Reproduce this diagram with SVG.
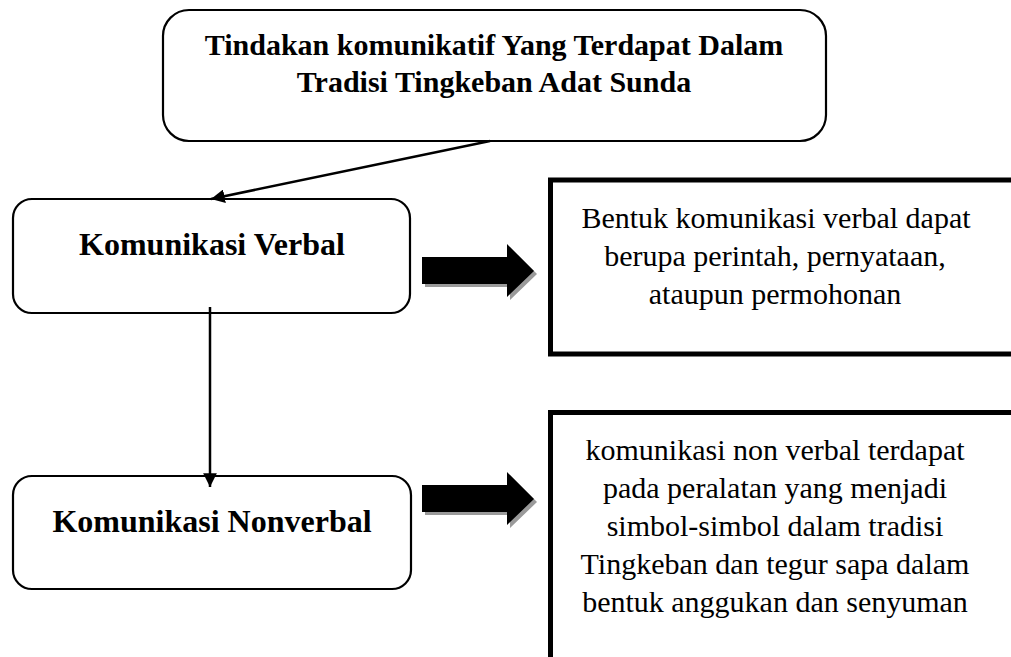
<svg xmlns="http://www.w3.org/2000/svg" width="1011" height="657" viewBox="0 0 1011 657">
<style>
.rbox{fill:#fff;stroke:#000;stroke-width:2.2}
.tbox{fill:#fff;stroke:#000;stroke-width:5}
.hd{font-family:"Liberation Serif","Times New Roman",serif;font-weight:bold;text-anchor:middle;fill:#000}
.bd{font-family:"Liberation Serif","Times New Roman",serif;font-size:30px;text-anchor:middle;fill:#000}
.conn{stroke:#000;stroke-width:2.5;fill:none}
.shadow{fill:#9a9a9a}
.blk{fill:#000}
</style>
<defs>
<marker id="ah" viewBox="0 0 10 10" refX="10" refY="5" markerWidth="5.5" markerHeight="5.5" orient="auto" markerUnits="strokeWidth">
<path d="M0,0 L10,5 L0,10 z" fill="#000"/>
</marker>
</defs>
<rect width="1011" height="657" fill="#fff"/>
<g id="node-title">
<rect class="rbox" x="163" y="10" width="663" height="131" rx="26"/>
<text class="hd" x="494" y="55" font-size="30">Tindakan komunikatif Yang Terdapat Dalam</text>
<text class="hd" x="494" y="92" font-size="30">Tradisi Tingkeban Adat Sunda</text>
</g>
<g id="node-verbal">
<rect class="rbox" x="13" y="199" width="397" height="114" rx="19"/>
<text class="hd" x="212" y="255" font-size="32">Komunikasi Verbal</text>
</g>
<g id="node-nonverbal">
<rect class="rbox" x="13" y="476" width="398" height="113" rx="19"/>
<text class="hd" x="212" y="532" font-size="32">Komunikasi Nonverbal</text>
</g>
<g id="node-verbal-desc">
<rect class="tbox" x="550.5" y="180" width="480" height="174"/>
<text class="bd" x="776" y="228">Bentuk komunikasi verbal dapat</text>
<text class="bd" x="775" y="266">berupa perintah, pernyataan,</text>
<text class="bd" x="775" y="304">ataupun permohonan</text>
</g>
<g id="node-nonverbal-desc">
<rect class="tbox" x="550.5" y="412.5" width="480" height="280"/>
<text class="bd" x="775" y="460">komunikasi non verbal terdapat</text>
<text class="bd" x="775" y="498">pada peralatan yang menjadi</text>
<text class="bd" x="775" y="536">simbol-simbol dalam tradisi</text>
<text class="bd" x="775" y="574">Tingkeban dan tegur sapa dalam</text>
<text class="bd" x="775" y="612">bentuk anggukan dan senyuman</text>
</g>
<g id="connectors">
<line class="conn" x1="490" y1="141" x2="211" y2="199" marker-end="url(#ah)"/>
<line class="conn" x1="210" y1="307" x2="210" y2="487" marker-end="url(#ah)"/>
<polygon class="shadow" points="425,260 510,260 510,247 537,274 510,300 510,287 425,287"/>
<polygon class="blk" points="422,257 507,257 507,244 534,271 507,297 507,284 422,284"/>
<polygon class="shadow" points="425,488 510,488 510,475 537,502 510,528 510,515 425,515"/>
<polygon class="blk" points="422,485 507,485 507,472 534,499 507,525 507,512 422,512"/>
</g>
</svg>
